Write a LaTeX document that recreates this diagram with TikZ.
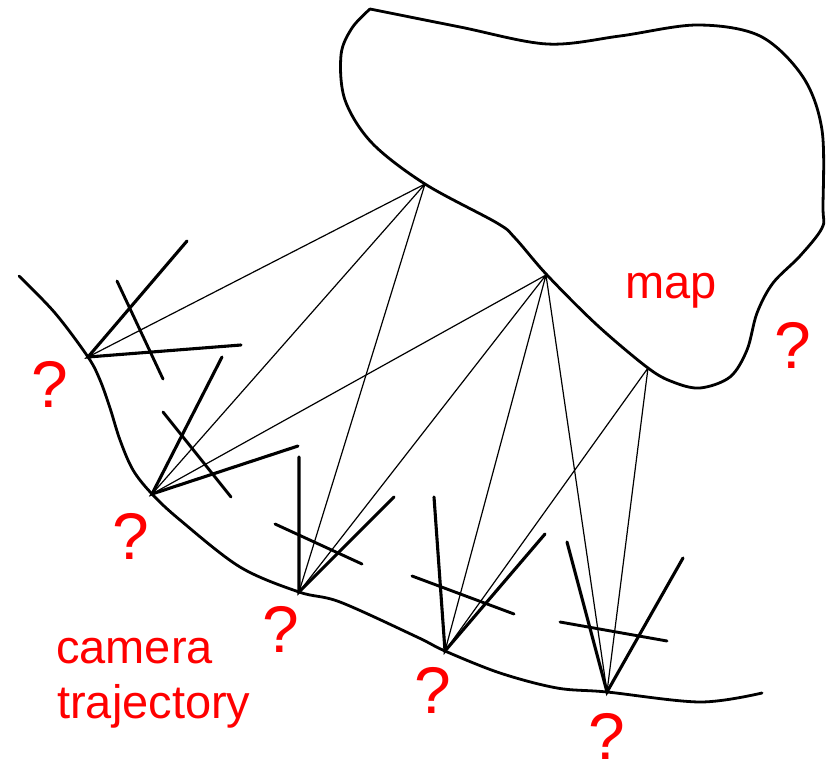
\documentclass[tikz,border=0pt]{standalone}
\usepackage{fontspec}
\setmainfont{Liberation Sans}
\begin{document}
\begin{tikzpicture}[x=1pt,y=-1pt,
  outline/.style={line width=2.8pt, line join=round, line cap=round},
  frustum/.style={line width=3.1pt, line cap=round},
  plane/.style={line width=2.9pt, line cap=round},
  ray/.style={line width=1.2pt},
  label/.style={text=red, font=\fontsize{47}{55}\selectfont, inner sep=0pt, anchor=base west},
  unknown/.style={text=red, font=\fontsize{66}{70}\selectfont, inner sep=0pt, anchor=base}]
\useasboundingbox (0,0) rectangle (831,760);

% map region (one sharp corner at its top-left)
\draw[outline] plot[smooth, tension=0.55] coordinates {
  (370,9) (460,27) (547,44) (620,36) (697,25) (760,36) (803,77) (822,130)
  (823,207) (822,228) (800,256) (773,283) (757,313) (747,350) (730,377)
  (700,388) (673,382) (648,368) (597,325) (547,275) (515,238) (497,223)
  (425,184) (372,143) (345,100) (341,55) (352,28) (370,9)};

% camera trajectory
\draw[outline] plot[smooth, tension=0.55] coordinates {
  (19,276) (55,313) (88,357) (100,380) (110,408) (120,440) (133,470)
  (152,494) (180,520) (240,567) (299,592) (340,602) (417,637) (445,651)
  (500,673) (557,688) (607,692) (700,702) (762,693)};

% map points
\coordinate (m1) at (425,184);
\coordinate (m2) at (546,275);
\coordinate (m3) at (648,368);

% camera centres
\coordinate (c1) at (88,357);
\coordinate (c2) at (152,494);
\coordinate (c3) at (299,592);
\coordinate (c4) at (445,651);
\coordinate (c5) at (607,692);

% frustum ends and image planes
\coordinate (c1a) at (187,241); \coordinate (c1b) at (241,345);
\coordinate (c1p) at (117,281); \coordinate (c1q) at (163,379);
\coordinate (c2a) at (222,357); \coordinate (c2b) at (298,446);
\coordinate (c2p) at (163,412); \coordinate (c2q) at (231,497);
\coordinate (c3a) at (299,457); \coordinate (c3b) at (394,497);
\coordinate (c3p) at (275,524); \coordinate (c3q) at (362,564);
\coordinate (c4a) at (434,497); \coordinate (c4b) at (545,534);
\coordinate (c4p) at (412,576); \coordinate (c4q) at (514,614);
\coordinate (c5a) at (567,542); \coordinate (c5b) at (683,558);
\coordinate (c5p) at (560,622); \coordinate (c5q) at (667,641);

% observation rays
\draw[ray] (m1) -- (c1) (m1) -- (c2) (m1) -- (c3);
\draw[ray] (m2) -- (c2) (m2) -- (c3) (m2) -- (c4) (m2) -- (c5);
\draw[ray] (m3) -- (c4) (m3) -- (c5);

% cameras
\foreach \c in {c1,c2,c3,c4,c5}{
  \draw[frustum] (\c a) -- (\c) -- (\c b);
  \draw[plane] (\c p) -- (\c q);
}

% labels
\node[label] (maplabel) at (625,298) {map};
\node[label] (camlabel) at (56,663) {camera};
\node[label] (trajlabel) at (57,718) {trajectory};

\node[unknown] (q1) at (50,407) {?};
\node[unknown] (q2) at (131,559) {?};
\node[unknown] (q3) at (281,652) {?};
\node[unknown] (q4) at (433,713) {?};
\node[unknown] (q5) at (607,759) {?};
\node[unknown] (q6) at (793,368) {?};
\end{tikzpicture}
\end{document}
